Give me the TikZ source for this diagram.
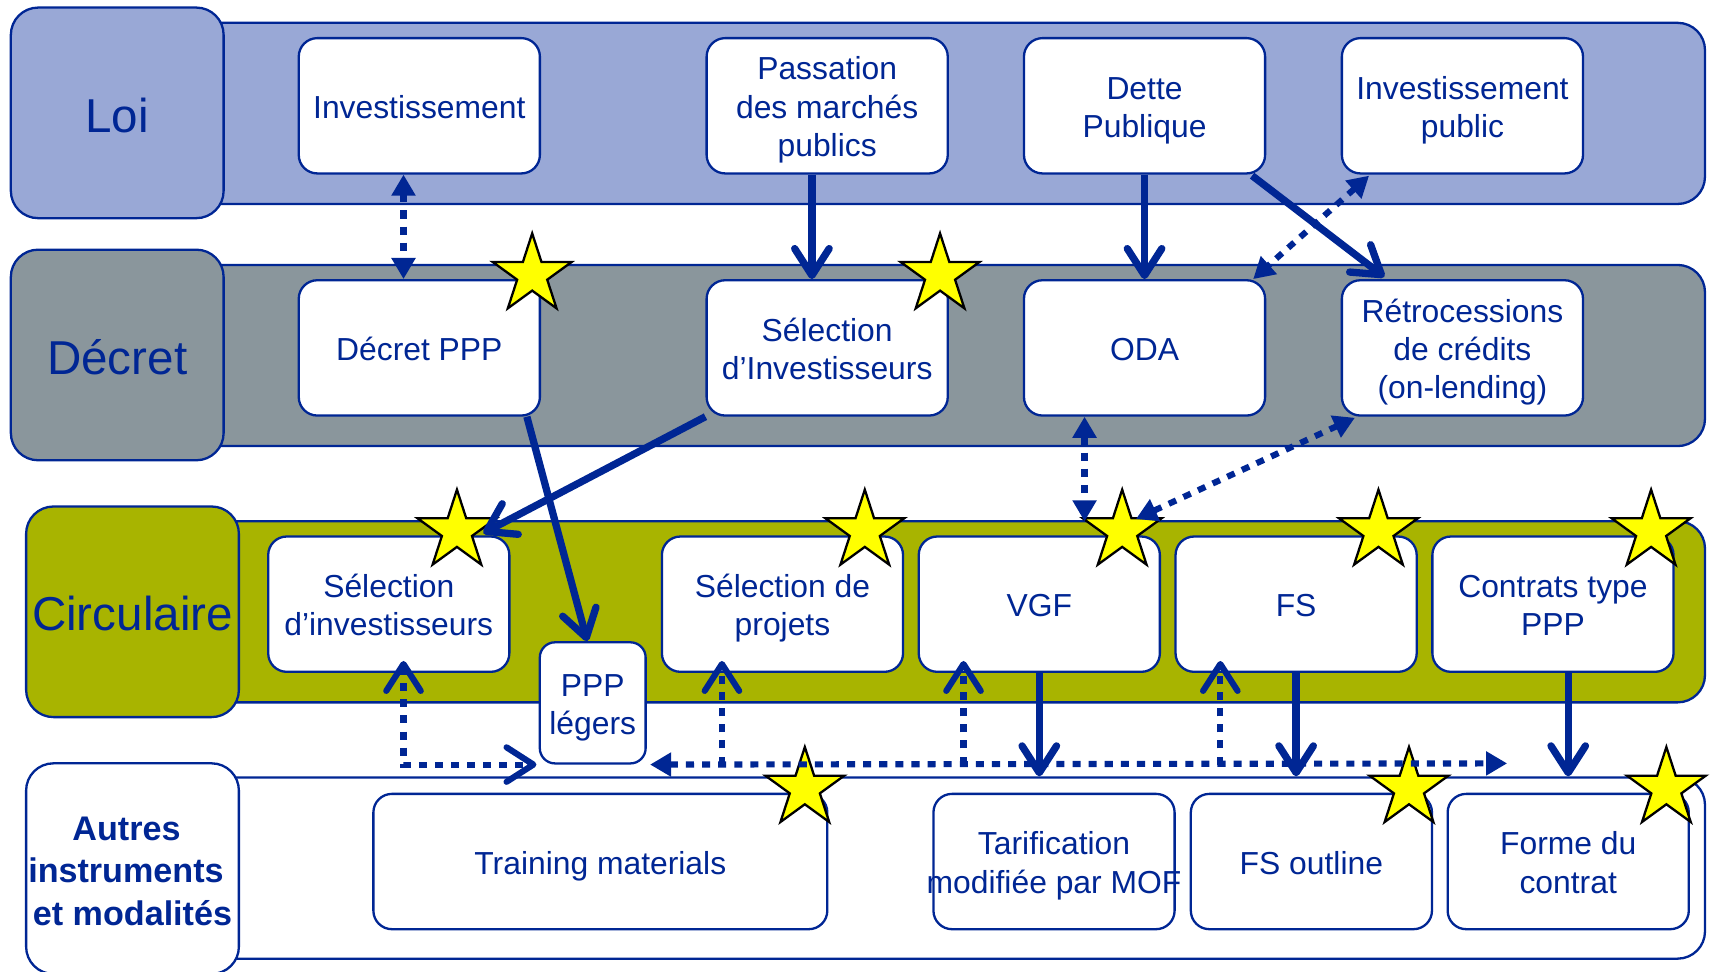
\documentclass[tikz,border=0pt]{standalone}
\usepackage{fontspec}
\setmainfont{Liberation Sans}
\usetikzlibrary{arrows.meta,calc}
\definecolor{dblue}{RGB}{0,38,148}
\definecolor{loifill}{RGB}{153,168,214}
\definecolor{decfill}{RGB}{138,150,156}
\definecolor{circfill}{RGB}{168,180,0}
\definecolor{staryellow}{RGB}{255,255,0}
\begin{document}
\begin{tikzpicture}[x=0.01cm,y=-0.01cm,
  box/.style={draw=dblue, fill=white, line width=0.6pt, rounded corners=0.17cm,
    minimum width=2.21cm, minimum height=1.24cm, align=center, text=dblue,
    inner sep=0pt, font=\fontsize{8.3}{10}\selectfont,
    text height=8.5pt, text depth=2pt},
  lntwo/.style={text height=18.5pt},
  lnthree/.style={text height=28.5pt},
  band/.style={draw=dblue, line width=0.6pt, rounded corners=0.25cm,
    minimum width=14.13cm, minimum height=1.66cm, inner sep=0pt},
  lab/.style={draw=dblue, line width=0.6pt, rounded corners=0.25cm,
    minimum width=1.95cm, minimum height=1.93cm, align=center, text=dblue,
    inner sep=0pt, font=\fontsize{12.4}{15}\selectfont,
    text height=12pt, text depth=2pt},
  solidarr/.style={draw=dblue, line width=1.9pt,
    -{Straight Barb[length=7pt,width=9pt,round]}},
  dottri/.style={draw=dblue, line width=1.6pt, dash pattern=on 2.1pt off 2.1pt,
    {Triangle[length=5.5pt,width=6pt]}-{Triangle[length=5.5pt,width=6pt]}},
  dotbarb/.style={draw=dblue, line width=1.6pt, dash pattern=on 2.1pt off 2.1pt,
    -{Straight Barb[length=7pt,width=9pt,round]}},
  dotbarbboth/.style={draw=dblue, line width=1.6pt, dash pattern=on 2.1pt off 2.1pt,
    {Straight Barb[length=7pt,width=9pt,round]}-{Straight Barb[length=7pt,width=9pt,round]}},
  ystar/.pic={\draw[fill=staryellow, draw=black, line width=0.6pt]
    (270:38) -- (306:14.5) -- (342:38) -- (18:14.5) -- (54:38) -- (90:14.5)
    -- (126:38) -- (162:14.5) -- (198:38) -- (234:14.5) -- cycle;}
]
\useasboundingbox (0,0) rectangle (1568,891);
\clip (0,0) rectangle (1568,891);

% bands
\node[band, fill=loifill] (loiband) at (856.5,104) {};
\node[band, fill=decfill] (decband) at (856.5,326) {};
\node[band, fill=circfill] (circband) at (856.5,561) {};
\node[band, fill=white] (autband) at (856.5,796) {};

% row labels
\node[lab, fill=loifill] (loi) at (107.5,103.5) {Loi};
\node[lab, fill=decfill] (decret) at (107.5,325.5) {Décret};
\node[lab, fill=circfill] (circ) at (121.5,561) {Circulaire};
\node[lab, fill=white, font=\fontsize{8.9}{11}\selectfont\bfseries,
  text height=31.4pt, text depth=2pt] (autres) at (121.5,796.5)
  {\makebox[0pt]{\hspace*{-0.11cm}Autres}\\\makebox[0pt]{\hspace*{-0.12cm}instruments}\\et modalités};

% Loi row
\node[box] (inv) at (384.5,97) {Investissement};
\node[box, lnthree] (pass) at (758.5,97) {Passation\\des marchés\\publics};
\node[box, lntwo] (dette) at (1049.5,97) {Dette\\Publique};
\node[box, lntwo] (invpub) at (1341,97) {Investissement\\public};

% Décret row
\node[box] (decppp) at (384.5,319) {Décret PPP};
\node[box, lntwo] (selinvd) at (758.5,319) {Sélection\\d’Investisseurs};
\node[box] (oda) at (1049.5,319) {ODA};
\node[box, lnthree] (retro) at (1341,319) {Rétrocessions\\de crédits\\(on-lending)};

% Circulaire row
\node[box, lntwo] (selinvc) at (356.5,554) {Sélection\\d’investisseurs};
\node[box, lntwo] (selproj) at (717.5,554) {Sélection de\\projets};
\node[box] (vgf) at (953,554) {VGF};
\node[box] (fs) at (1188.5,554) {FS};
\node[box, lntwo] (contrats) at (1424,554) {Contrats type\\PPP};
\node[box, lntwo, minimum width=0.97cm, minimum height=1.11cm, rounded corners=0.14cm] (pppl) at (543.5,644.5) {PPP\\légers};

% Autres row
\node[box, minimum width=4.16cm] (training) at (550.5,790) {Training materials};
\node[box, lntwo] (tarif) at (966.5,790) {Tarification\\\makebox[0pt]{modifiée par MOF}};
\node[box] (fsout) at (1202.5,790) {FS outline};
\node[box, lntwo] (forme) at (1438,790) {Forme du\\contrat};

% stars
\pic at (488,252) {ystar};
\pic at (862,252) {ystar};
\pic at (419,487) {ystar};
\pic at (793,487) {ystar};
\pic at (1029,487) {ystar};
\pic at (1264,487) {ystar};
\pic at (1514,487) {ystar};
\pic at (738,723) {ystar};
\pic at (1292,723) {ystar};
\pic at (1528,723) {ystar};

% Loi -> Décret connectors
\draw[dottri] ($(inv.south)+(-14.5,0)$) -- ($(decppp.north)+(-14.5,0)$);
\draw[solidarr] ($(pass.south)+(-14,0)$) -- ($(selinvd.north)+(-14,0)$);
\draw[solidarr] (dette.south) -- (oda.north);
\draw[solidarr] ($(dette.south east)+(-13,1)$) -- ($(retro.north west)+(40,-2)$);
\draw[dottri] ($(invpub.south west)+(26,1)$) -- ($(oda.north east)+(-12,0)$);

% Décret -> Circulaire connectors
\draw[solidarr] (selinvd.south west) -- ($(selinvc.north east)+(-25,-2)$);
\draw[solidarr] ($(decppp.south east)+(-13,0)$) -- ($(pppl.north)+(-5,0)$);
\draw[dottri] ($(oda.south)+(-55,0)$) -- ($(oda.south)+(-55,96)$);
\draw[dottri] ($(retro.south west)+(13,1)$) -- ($(vgf.north east)+(-23,-15)$);

% Circulaire <-> Autres dotted network
\coordinate (hend) at (1382,700);
\draw[dottri] ($(pppl.south east)+(3,0)$) -- (hend);
\draw[dotbarbboth] ($(selinvc.south)+(13.5,-11)$) |- ($(pppl.south west)+(-2,0)$);
\draw[dotbarb] ($(selproj.south)+(-55.5,84)$) -- ($(selproj.south)+(-55.5,-11)$);
\draw[dotbarb] ($(vgf.south)+(-69.5,84)$) -- ($(vgf.south)+(-69.5,-11)$);
\draw[dotbarb] ($(fs.south)+(-69.5,84)$) -- ($(fs.south)+(-69.5,-11)$);

% Circulaire -> Autres solid arrows
\draw[solidarr] (vgf.south) -- (vgf.south |- autband.north);
\draw[solidarr] (fs.south) -- (fs.south |- autband.north);
\draw[solidarr] (forme.north |- contrats.south) -- (forme.north |- autband.north);
\end{tikzpicture}
\end{document}
